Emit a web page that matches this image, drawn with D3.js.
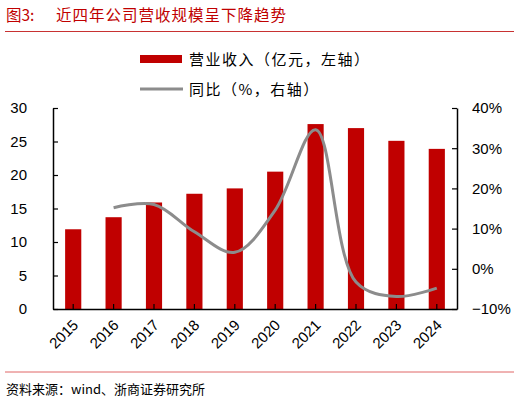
<!DOCTYPE html>
<html>
<head>
<meta charset="utf-8">
<script src="https://cdn.jsdelivr.net/npm/d3@7"></script>
<style>
  body { margin: 0; background: #fff; }
  text { font-family: "Liberation Sans", Arial, sans-serif; }
  .cjk { font-family: "Noto Sans CJK SC", sans-serif; }
</style>
</head>
<body>
<div class="chart"></div>
<script>
// chart data
var years = ["2015", "2016", "2017", "2018", "2019", "2020", "2021", "2022", "2023", "2024"];
var revenue = [11.9, 13.7, 15.9, 17.2, 18.0, 20.5, 27.6, 27.0, 25.1, 23.9];
var growth = [null, 15.2, 16.0, 9.2, 4.1, 14.6, 34.6, -3.3, -6.9, -4.8];
var leftTicks = [0, 5, 10, 15, 20, 25, 30];
var rightTicks = [-10, 0, 10, 20, 30, 40];

var svgWidth = 520;
var svgHeight = 403;

var margin = { top: 108, right: 63, bottom: 94, left: 53 };
var width = svgWidth - margin.left - margin.right;
var height = svgHeight - margin.top - margin.bottom;

var red = "#c00000";
var grey = "#8c8c8c";

var svg = d3.select(".chart")
  .append("svg")
  .attr("width", svgWidth)
  .attr("height", svgHeight);

// title + rule
svg.append("text")
  .attr("class", "cjk")
  .attr("x", 6)
  .attr("y", 21)
  .attr("fill", red)
  .attr("font-size", 15.5)
  .text("图3:");

svg.append("text")
  .attr("class", "cjk")
  .attr("x", 56)
  .attr("y", 21)
  .attr("fill", red)
  .attr("font-size", 15.5)
  .attr("letter-spacing", 1)
  .text("近四年公司营收规模呈下降趋势");

svg.append("line")
  .attr("x1", 5).attr("x2", 514)
  .attr("y1", 31.5).attr("y2", 31.5)
  .attr("stroke", "#c83232")
  .attr("stroke-width", 1);

// legend
var legend = svg.append("g");
legend.append("rect")
  .attr("x", 140).attr("y", 55)
  .attr("width", 42).attr("height", 8)
  .attr("fill", red);
legend.append("text")
  .attr("class", "cjk")
  .attr("x", 189).attr("y", 65)
  .attr("font-size", 15)
  .attr("letter-spacing", 1.5)
  .attr("fill", "#000")
  .text("营业收入（亿元，左轴）");
legend.append("line")
  .attr("x1", 140).attr("x2", 183)
  .attr("y1", 89).attr("y2", 89)
  .attr("stroke", grey)
  .attr("stroke-width", 3);
legend.append("text")
  .attr("class", "cjk")
  .attr("x", 189).attr("y", 95)
  .attr("font-size", 15)
  .attr("letter-spacing", 1.5)
  .attr("fill", "#000")
  .text("同比（%，右轴）");

var chartGroup = svg.append("g")
  .attr("transform", `translate(${margin.left}, ${margin.top})`);

// scales
var xBandScale = d3.scaleBand()
  .domain(years)
  .range([0, width]);

var yLeftScale = d3.scaleLinear()
  .domain([0, 30])
  .range([height, 0]);

var yRightScale = d3.scaleLinear()
  .domain([-10, 40])
  .range([height, 0]);

// bars
var barWidth = xBandScale.bandwidth() * 0.4;
chartGroup.selectAll("rect.bar")
  .data(years)
  .enter()
  .append("rect")
  .attr("class", "bar")
  .attr("x", d => xBandScale(d) + (xBandScale.bandwidth() - barWidth) / 2)
  .attr("y", (d, i) => yLeftScale(revenue[i]))
  .attr("width", barWidth)
  .attr("height", (d, i) => height - yLeftScale(revenue[i]))
  .attr("fill", red);

// yoy line
var lineData = years.map((d, i) => ({ year: d, v: growth[i] })).filter(d => d.v !== null);
var line = d3.line()
  .x(d => xBandScale(d.year) + xBandScale.bandwidth() / 2)
  .y(d => yRightScale(d.v))
  .curve(d3.curveCatmullRom.alpha(0.5));

chartGroup.append("path")
  .datum(lineData)
  .attr("d", line)
  .attr("fill", "none")
  .attr("stroke", grey)
  .attr("stroke-width", 3);

// axes
var leftAxis = d3.axisLeft(yLeftScale)
  .tickValues(leftTicks)
  .tickSizeInner(-5)
  .tickSizeOuter(0)
  .tickPadding(26);

var rightAxis = d3.axisRight(yRightScale)
  .tickValues(rightTicks)
  .tickFormat(d => (d < 0 ? "\u2212" + Math.abs(d) : d) + "%")
  .tickSizeInner(-5)
  .tickSizeOuter(0)
  .tickPadding(15);

var bottomAxis = d3.axisBottom(xBandScale)
  .tickSizeInner(-5)
  .tickSizeOuter(0)
  .tickPadding(0);

var gLeft = chartGroup.append("g").call(leftAxis);
var gRight = chartGroup.append("g")
  .attr("transform", `translate(${width}, 0)`)
  .call(rightAxis);
var gBottom = chartGroup.append("g")
  .attr("transform", `translate(0, ${height})`)
  .call(bottomAxis);

[gLeft, gRight, gBottom].forEach(function(g) {
  g.selectAll(".domain").attr("stroke", "#000").attr("stroke-width", 1.5);
  g.selectAll(".tick line").attr("stroke", "#000").attr("stroke-width", 1.2);
  g.selectAll(".tick text")
    .attr("fill", "#000")
    .attr("font-size", 15)
    .attr("font-family", "'Liberation Sans', Arial, sans-serif");
});

gBottom.selectAll(".tick text")
  .attr("text-anchor", "end")
  .attr("dy", 0)
  .attr("y", 0)
  .attr("transform", "translate(6, 17) rotate(-45)");

// footer
svg.append("line")
  .attr("x1", 5).attr("x2", 514)
  .attr("y1", 372).attr("y2", 372)
  .attr("stroke", "#e06666")
  .attr("stroke-width", 1);

svg.append("text")
  .attr("class", "cjk")
  .attr("x", 6)
  .attr("y", 394)
  .attr("font-size", 13)
  .attr("fill", "#000")
  .text("资料来源：wind、浙商证券研究所");
</script>
</body>
</html>
